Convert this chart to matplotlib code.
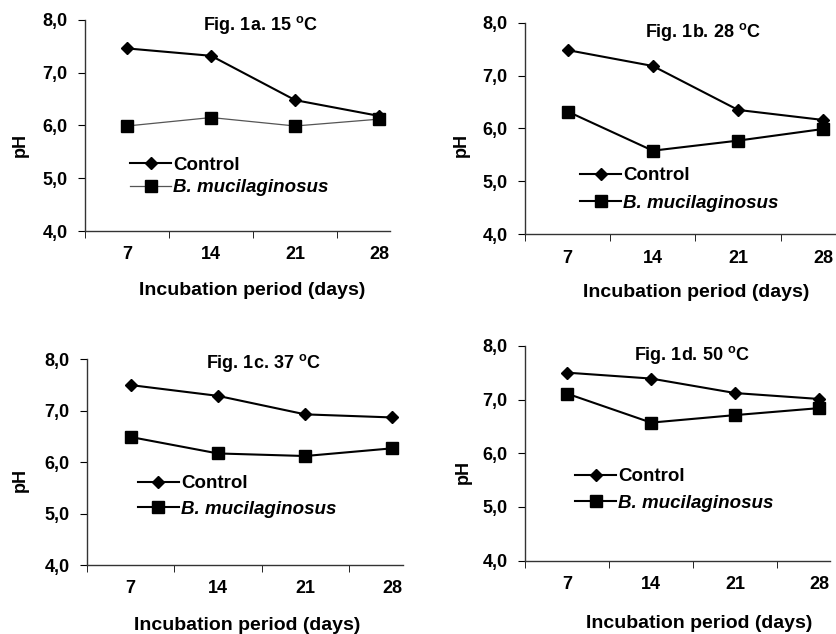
import matplotlib.pyplot as plt
from matplotlib.ticker import FixedLocator, FuncFormatter

plt.rcParams['font.family'] = ['Liberation Sans', 'DejaVu Sans']
plt.rcParams['font.weight'] = 'bold'
plt.rcParams['mathtext.fontset'] = 'custom'
plt.rcParams['mathtext.bf'] = 'Liberation Sans:bold'
plt.rcParams['mathtext.rm'] = 'Liberation Sans:bold'

days = ['7', '14', '21', '28']

control_15 = [7.46, 7.32, 6.48, 6.18]
bacil_15 = [5.99, 6.15, 5.99, 6.12]
control_28 = [7.48, 7.18, 6.35, 6.16]
bacil_28 = [6.32, 5.58, 5.77, 5.99]
control_37 = [7.50, 7.29, 6.93, 6.87]
bacil_37 = [6.49, 6.17, 6.12, 6.27]
control_50 = [7.50, 7.39, 7.12, 7.01]
bacil_50 = [7.11, 6.57, 6.71, 6.84]

panels = [
    # title, control, bacillus, axes rect, xmax, title pos, legend pos, legend spacing, xlabel pos, ylabel pos
    ('Fig. 1a. 15', control_15, bacil_15, [0.1017, 0.6356, 0.365, 0.333], 3.13,
     (0.574, 0.975), (0.148, 0.258), 0.28, (0.549, -0.28), (-0.213, 0.408)),
    ('Fig. 1b. 28', control_28, bacil_28, [0.628, 0.6304, 0.372, 0.334], 3.15,
     (0.572, 0.956), (0.177, 0.212), 0.56, (0.549, -0.277), (-0.204, 0.422)),
    ('Fig. 1c. 37', control_37, bacil_37, [0.104, 0.1088, 0.378, 0.3244], 3.12,
     (0.557, 0.982), (0.161, 0.334), 0.45, (0.508, -0.292), (-0.212, 0.413)),
    ('Fig. 1d. 50', control_50, bacil_50, [0.628, 0.1156, 0.365, 0.339], 3.13,
     (0.547, 0.957), (0.164, 0.329), 0.5, (0.570, -0.29), (-0.202, 0.414)),
]

fig = plt.figure(figsize=(8.36, 6.34), dpi=100)

for i, (title, ctrl, bac, rect, xmax, tpos, lpos, lsp, xlpos, ylpos) in enumerate(panels):
    ax = fig.add_axes(rect)
    x = list(range(len(days)))
    ax.plot(x, ctrl, color='black', lw=1.5, marker='D', ms=6, label='Control')
    if i == 0:
        ax.plot(x, bac, color='#555555', lw=0.9, marker='s', ms=8,
                mfc='black', mec='black', label='B. mucilaginosus')
    else:
        ax.plot(x, bac, color='black', lw=1.5, marker='s', ms=8,
                label='B. mucilaginosus')

    ax.set_xlim(-0.5, xmax)
    ax.set_ylim(4, 8)
    ax.spines['top'].set_visible(False)
    ax.spines['right'].set_visible(False)
    for s in ['left', 'bottom']:
        ax.spines[s].set_linewidth(1.0)
        ax.spines[s].set_color('#333333')

    ax.set_xticks(x)
    ax.set_xticklabels(days)
    ax.xaxis.set_minor_locator(FixedLocator([-0.5, 0.5, 1.5, 2.5]))
    ax.tick_params(axis='x', which='major', length=0, pad=11, labelsize=13)
    ax.tick_params(axis='x', which='minor', length=5, direction='out')
    ax.set_yticks([4, 5, 6, 7, 8])
    ax.yaxis.set_major_formatter(FuncFormatter(lambda v, p: ('%.1f' % v).replace('.', ',')))
    ax.tick_params(axis='y', length=5, direction='out', pad=7.5, labelsize=13)

    ax.text(tpos[0], tpos[1], title + r' $^\mathbf{o}$C', transform=ax.transAxes,
            ha='center', va='center', fontsize=13, fontweight='bold')

    ax.set_xlabel('Incubation period (days)', fontsize=14, fontweight='bold')
    ax.xaxis.label.set_va('center')
    ax.xaxis.set_label_coords(*xlpos)
    ax.set_ylabel('pH', fontsize=13, fontweight='bold')
    ax.yaxis.label.set_va('center')
    ax.yaxis.set_label_coords(*ylpos)

    leg = ax.legend(loc='center left', bbox_to_anchor=lpos, frameon=False,
                    borderaxespad=0, borderpad=0, handlelength=2.2,
                    handletextpad=0.1, labelspacing=lsp,
                    prop={'size': 13.5, 'weight': 'bold'})
    leg.get_texts()[1].set_fontstyle('italic')

fig.savefig('out.png', dpi=100)
